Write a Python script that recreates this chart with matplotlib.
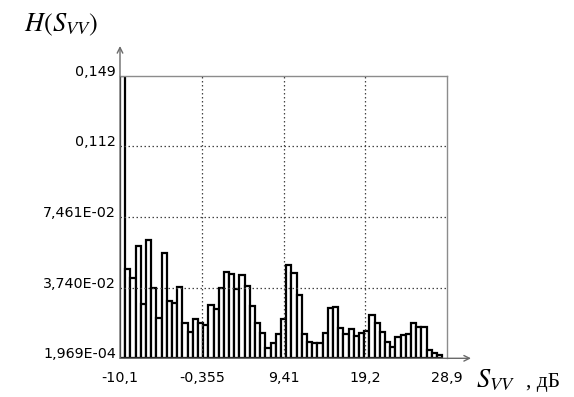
import numpy as np
import matplotlib
matplotlib.use("Agg")
import matplotlib.pyplot as plt

# ---- data ----
x_min, x_max = -10.1, 28.9
y_min, y_max = 1.969e-4, 0.149
n_bins = 63
hist_values = [
    0.1490, 0.0470, 0.0425, 0.0593, 0.0286, 0.0625, 0.0370, 0.0216, 0.0558, 0.0304,
    0.0291, 0.0376, 0.0190, 0.0142, 0.0207, 0.0186, 0.0177, 0.0281, 0.0260, 0.0370,
    0.0455, 0.0446, 0.0365, 0.0441, 0.0383, 0.0277, 0.0186, 0.0137, 0.0055, 0.0085,
    0.0130, 0.0207, 0.0493, 0.0449, 0.0335, 0.0128, 0.0090, 0.0085, 0.0085, 0.0134,
    0.0269, 0.0270, 0.0163, 0.0130, 0.0155, 0.0120, 0.0134, 0.0148, 0.0230, 0.0186,
    0.0139, 0.0090, 0.0063, 0.0116, 0.0125, 0.0130, 0.0186, 0.0169, 0.0169, 0.0046,
    0.0032, 0.0019,
]
x_tick_labels = ["-10,1", "-0,355", "9,41", "19,2", "28,9"]
y_tick_labels = ["1,969E-04", "3,740E-02", "7,461E-02", "0,112", "0,149"]

# ---- figure ----
plt.rcParams["mathtext.fontset"] = "stix"
fig = plt.figure(figsize=(5.74, 3.97), dpi=100)
W, H = 574, 397
ax_l, ax_r, ax_t, ax_b = 120, 447.3, 75.7, 358.3
ax = fig.add_axes([ax_l / W, 1 - ax_b / H, (ax_r - ax_l) / W, (ax_b - ax_t) / H])

bin_w = (x_max - x_min) / n_bins
edges = x_min + bin_w * np.arange(len(hist_values))
heights = np.array(hist_values) - y_min
ax.bar(edges, heights, width=bin_w, bottom=y_min, align="edge",
       facecolor="white", edgecolor="black", linewidth=1.6, zorder=1)

ax.set_xlim(x_min, x_max)
ax.set_ylim(y_min, y_max)
xt = np.linspace(x_min, x_max, 5)
yt = np.linspace(y_min, y_max, 5)
ax.set_xticks(xt)
ax.set_yticks(yt)
ax.set_xticklabels(x_tick_labels, fontsize=10.3, family="DejaVu Sans")
ax.set_yticklabels(y_tick_labels, fontsize=10.3, family="DejaVu Sans")
for lab in ax.get_yticklabels():
    lab.set_verticalalignment("baseline")
ax.tick_params(axis="both", length=0)
ax.tick_params(axis="y", pad=3)
ax.tick_params(axis="x", pad=9)

ax.set_axisbelow(False)
ax.grid(True, linestyle=(0, (1.2, 2.0)), color="#444444", linewidth=0.9)
# hide outer gridlines that coincide with the frame
xg = ax.get_xgridlines()
yg = ax.get_ygridlines()
for gl in (xg[0], xg[-1], yg[0], yg[-1]):
    gl.set_visible(False)

for s in ["top", "right"]:
    ax.spines[s].set_color("#8c8c8c")
    ax.spines[s].set_linewidth(1.0)
for s in ["left", "bottom"]:
    ax.spines[s].set_visible(False)

# axis arrows
ax.annotate("", xy=(0, 1 + (ax_t - 46) / (ax_b - ax_t)), xytext=(0, 0),
            xycoords="axes fraction", textcoords="axes fraction",
            arrowprops=dict(arrowstyle="->", color="#6a6a6a", lw=1.0,
                            shrinkA=0, shrinkB=0), annotation_clip=False)
ax.annotate("", xy=(1 + (471 - ax_r) / (ax_r - ax_l), 0), xytext=(0, 0),
            xycoords="axes fraction", textcoords="axes fraction",
            arrowprops=dict(arrowstyle="->", color="#6a6a6a", lw=1.0,
                            shrinkA=0, shrinkB=0), annotation_clip=False)

# axis titles
fig.text(24 / W, 1 - 31 / H, r"$H(S_{VV})$", fontsize=19,
         family="Liberation Serif", ha="left", va="baseline")
fig.text(476 / W, 1 - 387 / H, r"$S_{VV}$", fontsize=19,
         family="Liberation Serif", ha="left", va="baseline")
fig.text(526 / W, 1 - 387 / H, ", дБ", fontsize=15.5,
         family="Liberation Serif", ha="left", va="baseline")

fig.savefig("out.png", dpi=100)
